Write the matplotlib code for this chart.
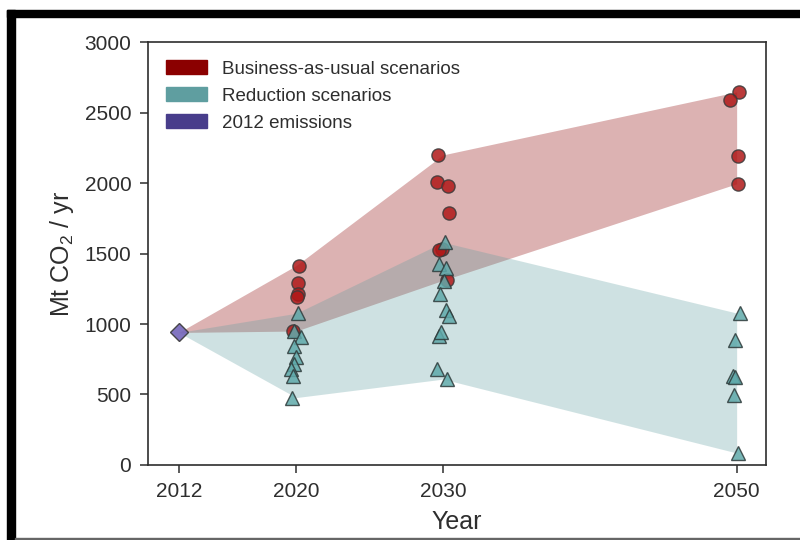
import numpy as np
import matplotlib
matplotlib.use("Agg")
import matplotlib.pyplot as plt
from matplotlib.patches import Patch, Rectangle

plt.rcParams["font.family"] = ["Liberation Sans", "DejaVu Sans"]
plt.rcParams["mathtext.fontset"] = "custom"
plt.rcParams["mathtext.rm"] = "Liberation Sans"
plt.rcParams["mathtext.it"] = "Liberation Sans:italic"
plt.rcParams["mathtext.bf"] = "Liberation Sans:bold"

# 2012 baseline emissions (Mt CO2 / yr)
base_year = 2012
base_value = 940

# Business-as-usual scenarios: year (slightly spread around the nominal year) and value
bau_years = [2020.17, 2020.13, 2020.10, 2020.06, 2019.78,
             2029.63, 2029.59, 2030.34, 2030.41, 2029.93, 2029.70, 2030.27,
             2050.14, 2049.57, 2050.07, 2050.07]
bau_values = [1415, 1290, 1210, 1190, 950,
              2200, 2005, 1980, 1790, 1535, 1525, 1310,
              2647, 2592, 2195, 1995]

# Reduction scenarios
red_years = [2020.13, 2019.88, 2020.29, 2019.83, 2020.01, 2019.83, 2019.65, 2019.78, 2019.71,
             2030.11, 2029.75, 2030.20, 2030.09, 2029.82, 2030.20, 2030.38, 2029.75, 2029.88,
             2029.59, 2030.27,
             2050.25, 2049.90, 2049.75, 2049.90, 2049.80, 2050.07]
red_values = [1076, 953, 910, 846, 763, 716, 680, 633, 478,
              1580, 1427, 1398, 1308, 1213, 1100, 1059, 917, 941,
              680, 609,
              1078, 890, 633, 625, 496, 85]

tick_years = [2012, 2020, 2030, 2050]
scenario_years = [2020, 2030, 2050]

bau_color = "#8b0000"
red_color = "#5f9ea0"
base_color = "#483d8b"
text_color = "#2e2e2e"


def envelope(years, values):
    years = np.asarray(years)
    values = np.asarray(values)
    nominal = np.round(years)
    lo = [base_value] + [values[nominal == y].min() for y in scenario_years]
    hi = [base_value] + [values[nominal == y].max() for y in scenario_years]
    return [base_year] + scenario_years, lo, hi


fig = plt.figure(figsize=(8.0, 5.4), dpi=100)
ax = fig.add_axes([0.185, 0.139, 0.7725, 0.783])

x, lo, hi = envelope(bau_years, bau_values)
ax.fill_between(x, lo, hi, color=bau_color, alpha=0.3, linewidth=0)
x, lo, hi = envelope(red_years, red_values)
ax.fill_between(x, lo, hi, color=red_color, alpha=0.3, linewidth=0)

ax.plot(bau_years, bau_values, "o", ms=9.5, mfc="#b01818", mec="#3a3a3a",
        mew=1.0, alpha=0.85, zorder=3)
ax.plot(red_years, red_values, "^", ms=9.5, mfc="#5fa9aa", mec="#2e3a3a",
        mew=1.0, alpha=0.85, zorder=4)
ax.plot([base_year], [base_value], "D", ms=9.5, mfc="#7466bb", mec="#3a3a3a",
        mew=1.0, alpha=0.9, zorder=5)

ax.set_xlim(2009.9, 2052.0)
ax.set_ylim(0, 3000)
ax.set_xticks(tick_years)
ax.set_yticks(np.arange(0, 3001, 500))

for s in ax.spines.values():
    s.set_color(text_color)
    s.set_linewidth(1.2)
ax.tick_params(direction="out", length=6, width=1.1, colors=text_color,
               labelsize=15, pad=6)

ax.set_xlabel("Year", fontsize=18, color=text_color, labelpad=7)
ax.set_ylabel("Mt CO$_2$ / yr", fontsize=18, color=text_color, labelpad=6)

handles = [Patch(color=bau_color, label="Business-as-usual scenarios"),
           Patch(color=red_color, label="Reduction scenarios"),
           Patch(color=base_color, label="2012 emissions")]
leg = ax.legend(handles=handles, loc="upper left", frameon=False, fontsize=13.5,
                handlelength=2.2, handleheight=0.8, labelspacing=0.5,
                handletextpad=0.8, borderaxespad=0.55)
for t in leg.get_texts():
    t.set_color(text_color)

# Screen frame around the figure
fig.patches.append(Rectangle((7 / 800, 0), 8 / 800, 530 / 540, transform=fig.transFigure,
                             color="black", zorder=10))
fig.patches.append(Rectangle((7 / 800, 523 / 540), 793 / 800, 7 / 540,
                             transform=fig.transFigure, color="black", zorder=10))
fig.patches.append(Rectangle((15 / 800, 0), 785 / 800, 2 / 540, transform=fig.transFigure,
                             color="#666666", zorder=10))

fig.savefig("out.png", dpi=100)
